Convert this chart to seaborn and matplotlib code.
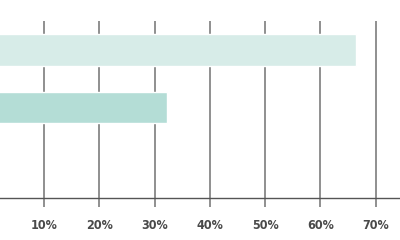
import matplotlib
matplotlib.use("Agg")
import matplotlib.pyplot as plt
import seaborn as sns
import pandas as pd
from matplotlib import font_manager

categories = ["A", "B"]
values = [66.4, 32.2]
colors = ["#d7ece8", "#b4ddd6"]
tick_values = [10, 20, 30, 40, 50, 60, 70]
tick_labels = ["10%", "20%", "30%", "40%", "50%", "60%", "70%"]

sns.set_theme(style="white")
names = {f.name for f in font_manager.fontManager.ttflist}
fam = "Liberation Sans Narrow" if "Liberation Sans Narrow" in names else "DejaVu Sans"
plt.rcParams["font.family"] = [fam, "DejaVu Sans"]

df = pd.DataFrame({"cat": categories, "val": values})

fig = plt.figure(figsize=(4, 2.4), dpi=100)
ax = fig.add_axes([0, 1 - 198 / 240, 1, (198 - 21) / 240])
ax.set_axisbelow(True)
for t in tick_values:
    ax.axvline(t, color="#878787", lw=1.3, zorder=0)
sns.barplot(data=df, x="val", y="cat", hue="cat", palette=colors, orient="h",
            width=0.54, legend=False, ax=ax, zorder=2, saturation=1)
ax.set_ylim(2.574, -0.504)
ax.set_xlim(2.0, 74.4)
ax.set_xticks(tick_values)
ax.set_xticklabels(tick_labels, fontsize=9, fontweight="bold", color="#4a4a4a",
                   fontstretch="condensed")
ax.tick_params(axis="x", length=6.5, width=1.3, color="#878787", pad=8.5, bottom=True)
ax.set_yticks([])
ax.set_xlabel("")
ax.set_ylabel("")
for s in ["top", "right", "left"]:
    ax.spines[s].set_visible(False)
ax.spines["bottom"].set_color("#555555")
ax.spines["bottom"].set_linewidth(1.0)
fig.savefig("out.png", dpi=100)
